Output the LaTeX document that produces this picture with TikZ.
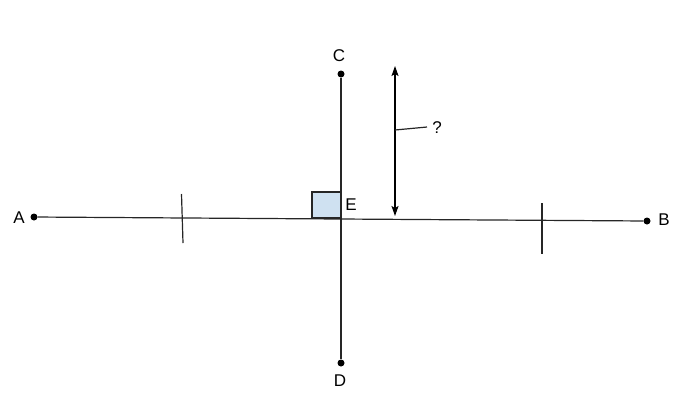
\documentclass[tikz,border=0pt]{standalone}
\usepackage{fontspec}
\setmainfont{Liberation Sans}
\usetikzlibrary{arrows.meta}
\begin{document}
\begin{tikzpicture}[x=1pt,y=-1pt,
  seg/.style={line width=1.2pt,black!85},
  dotpt/.style={circle,fill=black,inner sep=0pt,minimum size=7pt},
  lbl/.style={inner sep=0pt,font=\fontsize{17}{19}\selectfont},
  arr/.style={line width=1.2pt,{Stealth[length=10pt,width=7pt,inset=2pt]}-{Stealth[length=10pt,width=7pt,inset=2pt]}}]
\useasboundingbox (0,0) rectangle (679,400);
\fill[fill={rgb,255:red,207;green,225;blue,241},draw=black!85,line width=1.2pt] (312,192) rectangle (341,218);
\node[dotpt] (A) at (34,217) {};
\node[dotpt] (B) at (647,221) {};
\node[dotpt] (C) at (341,74) {};
\node[dotpt] (D) at (341,363) {};
\draw[seg] (A) -- (B);
\draw[seg] (C) -- (D);
\coordinate (t1a) at (181.5,194);
\coordinate (t1b) at (183,243);
\coordinate (t2a) at (542,203);
\coordinate (t2b) at (542,254);
\draw[seg] (t1a) -- (t1b);
\draw[seg] (t2a) -- (t2b);
\coordinate (ar1) at (395,66);
\coordinate (ar2) at (395,216);
\draw[arr] (ar1) -- (ar2);
\coordinate (cl1) at (395,130);
\coordinate (cl2) at (427,127);
\draw[seg] (cl1) -- (cl2);
\node[lbl] (lA) at (19,218) {A};
\node[lbl] (lB) at (664,220) {B};
\node[lbl] (lC) at (339,56) {C};
\node[lbl] (lD) at (340,381) {D};
\node[lbl] (lE) at (351,205) {E};
\node[lbl] (lq) at (437,128) {?};
\end{tikzpicture}
\end{document}
